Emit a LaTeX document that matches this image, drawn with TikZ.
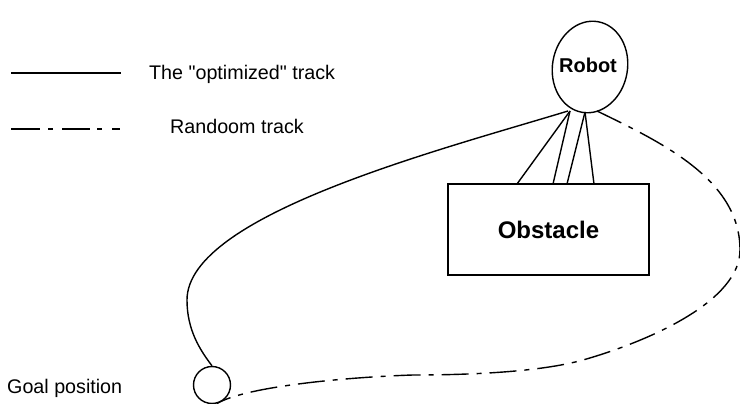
\documentclass[tikz,border=0pt]{standalone}
\usepackage{fontspec}
\setmainfont{Liberation Sans}[Ligatures=TeXOff]
\usetikzlibrary{shapes.geometric}
\begin{document}
\begin{tikzpicture}[x=1pt,y=-1pt,
  trk/.style={line width=1.4pt, line cap=butt},
  rnd/.style={trk, dash pattern=on 27pt off 8pt on 5pt off 8pt},
  lbl/.style={anchor=base west, inner sep=0pt, font=\fontsize{19.7}{23}\selectfont},
  box/.style={draw, line width=1.4pt}]
\useasboundingbox (0,0) rectangle (740,404);
% legend
\coordinate (l1a) at (11,73);
\coordinate (l1b) at (121,73);
\coordinate (l2a) at (11,129);
\coordinate (l2b) at (121,129);
\draw[trk] (l1a) -- (l1b);
\draw[trk, dash pattern=on 29pt off 8pt on 5pt off 9pt on 28pt off 7pt on 5pt off 10pt on 8pt] (l2a) -- (l2b);
\node[lbl] (t1) at (149,80) {The "optimized" track};
\node[lbl] (t2) at (170,134) {Randoom track};
\node[lbl] (t3) at (7,393) {Goal position};
% robot
\node[box, ellipse, minimum width=75pt, minimum height=92pt, inner sep=0pt, rotate=-10] (robot) at (590,67) {};
\node[inner sep=0pt, font=\fontsize{20}{24}\selectfont\bfseries] (robotlabel) at (588,65) {Robot};
% obstacle
\node[box, rectangle, minimum width=201pt, minimum height=91pt, inner sep=0pt, font=\fontsize{24}{28}\selectfont\bfseries] (obst) at (548.5,229.5) {Obstacle};
% goal
\node[box, circle, minimum size=37pt, inner sep=0pt] (goal) at (212,385) {};
% contact points
\coordinate (r1) at (570,111);
\coordinate (r2) at (585,112);
\coordinate (rs) at (568,111);
\coordinate (rd) at (597,111);
\coordinate (o1) at (517,184);
\coordinate (o2) at (553,184);
\coordinate (o3) at (567,184);
\coordinate (o4) at (594,184);
\draw[trk] (r1) -- (o1);
\draw[trk] (r1) -- (o2);
\draw[trk] (r2) -- (o3);
\draw[trk] (r2) -- (o4);
% optimized track
\draw[trk] (rs) .. controls (440,150) and (187,215) .. (187,300)
  .. controls (187,330) and (200,350) .. (goal.90);
% random track
\draw[rnd] (rd) .. controls (663,143) and (740,180) .. (740,250)
  .. controls (740,300) and (653,340) .. (583,360)
  .. controls (540,372) and (470,375) .. (413,375)
  .. controls (350,377) and (247,386) .. (goal.-75);
\end{tikzpicture}
\end{document}
